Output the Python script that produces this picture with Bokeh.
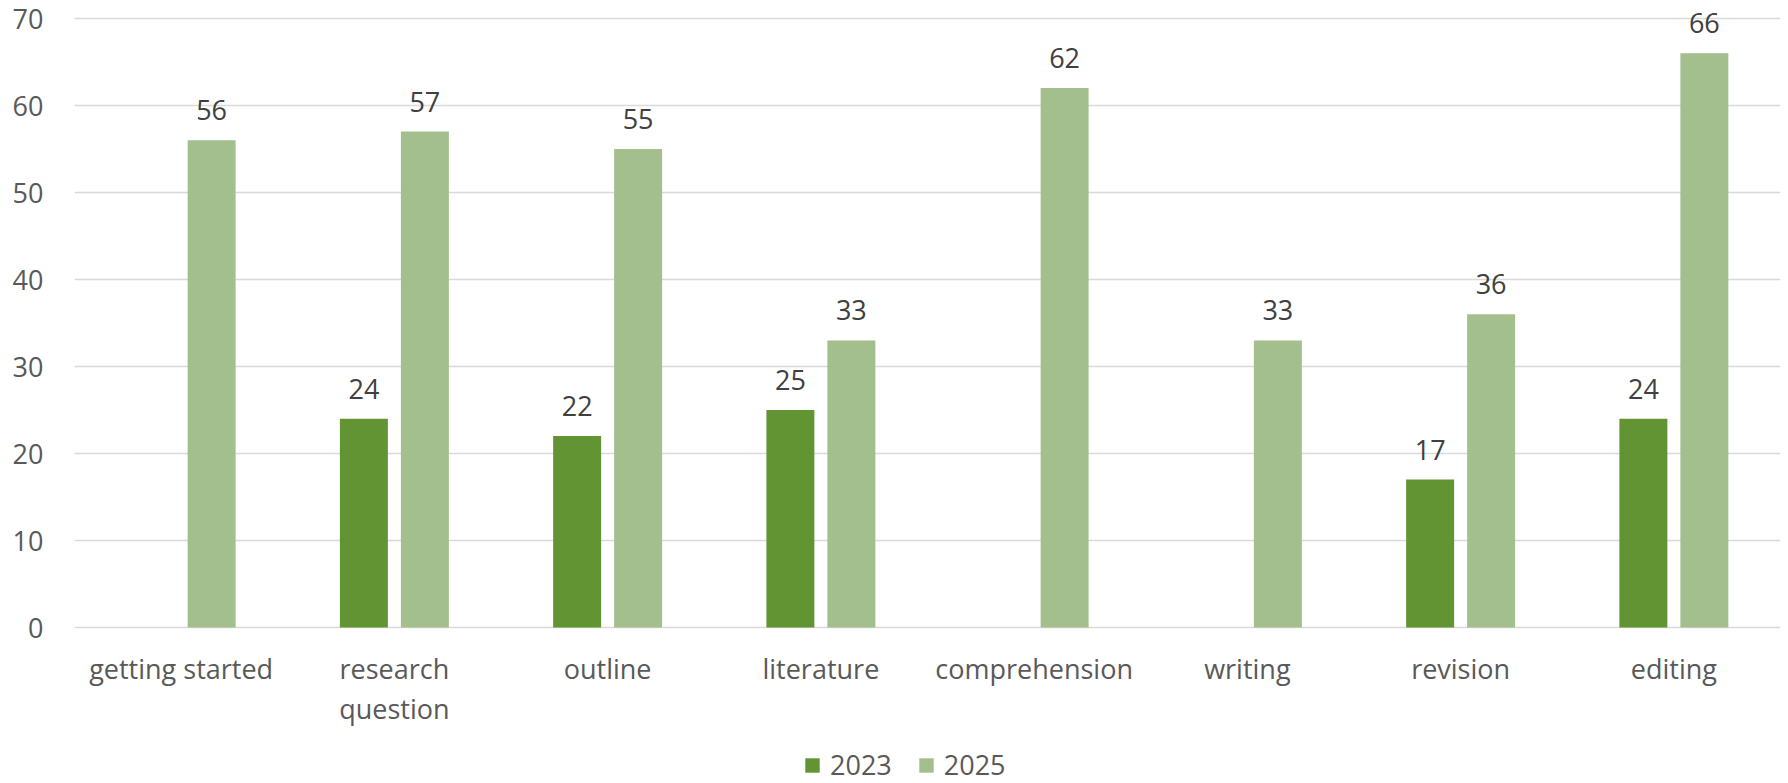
from bokeh.plotting import figure
from bokeh.models import ColumnDataSource, FactorRange, Legend, LegendItem, LabelSet, FixedTicker
from bokeh.transform import dodge
from bokeh.core.properties import value
from bokeh.embed import file_html
from bokeh.resources import INLINE

categories = ["getting started", "research\nquestion", "outline", "literature",
              "comprehension", "writing", "revision", "editing"]
series_names = ["2023", "2025"]
values_2023 = [None, 24, 22, 25, None, None, 17, 24]
values_2025 = [56, 57, 55, 33, 62, 33, 36, 66]
y_ticks = [0, 10, 20, 30, 40, 50, 60, 70]

FONT = "Open Sans"
C2023 = "#629433"
C2025 = "#A2BF8D"

# the frame spans the whole page height; the value axis 0..70 occupies the middle part
PX_PER_UNIT = 609 / 70
Y_MAX = 70 + 18 / PX_PER_UNIT
Y_MIN = -156 / PX_PER_UNIT

nan = float("nan")
src = ColumnDataSource(dict(
    cat=categories,
    v23=[nan if v is None else v for v in values_2023],
    v25=values_2025,
))

p = figure(x_range=FactorRange(*categories), y_range=(Y_MIN, Y_MAX),
           width=1788, height=783,
           output_backend="svg", toolbar_location=None,
           min_border_left=74, min_border_right=8, min_border_top=0, min_border_bottom=0)
p.outline_line_color = None
p.background_fill_color = "white"
p.x_range.range_padding = 0

r23 = p.vbar(x=dodge("cat", -0.143, range=p.x_range), top="v23", bottom=0, width=0.225,
             source=src, fill_color=C2023, line_color=None)
r25 = p.vbar(x=dodge("cat", 0.143, range=p.x_range), top="v25", bottom=0, width=0.225,
             source=src, fill_color=C2025, line_color=None)

lab23 = ColumnDataSource(dict(
    cat=[c for c, v in zip(categories, values_2023) if v is not None],
    v=[v for v in values_2023 if v is not None],
    t=[str(v) for v in values_2023 if v is not None],
))
lab25 = ColumnDataSource(dict(cat=categories, v=values_2025, t=[str(v) for v in values_2025]))
for s, off in ((lab23, -0.143), (lab25, 0.143)):
    ls = LabelSet(x=dodge("cat", off, range=p.x_range), y="v", text="t", source=s,
                  text_align="center", text_baseline="bottom", y_offset=20,
                  text_font=value(FONT), text_font_size=value("27px"), text_color=value("#404040"))
    p.add_layout(ls)

p.xgrid.grid_line_color = None
p.ygrid.grid_line_color = "#D9D9D9"
p.ygrid.grid_line_width = 1.5
p.ygrid.ticker = FixedTicker(ticks=y_ticks)

p.yaxis.ticker = FixedTicker(ticks=y_ticks)
p.yaxis.axis_line_color = None
p.yaxis.major_tick_line_color = None
p.yaxis.minor_tick_line_color = None
p.yaxis.major_tick_out = 0
p.yaxis.major_tick_in = 0
p.yaxis.major_label_standoff = 31
p.yaxis.major_label_text_font = FONT
p.yaxis.major_label_text_font_size = "27px"
p.yaxis.major_label_text_color = "#595959"

p.xaxis.fixed_location = 0
p.xaxis.axis_line_color = None
p.xaxis.major_tick_line_color = None
p.xaxis.major_tick_out = 0
p.xaxis.major_tick_in = 0
p.xaxis.major_label_standoff = 22
p.xaxis.major_label_text_font = FONT
p.xaxis.major_label_text_font_size = "27px"
p.xaxis.major_label_text_color = "#595959"
p.xaxis.major_label_text_line_height = 1.1

legend = Legend(items=[LegendItem(label=series_names[0], renderers=[r23]),
                       LegendItem(label=series_names[1], renderers=[r25])],
                orientation="horizontal", location=(729, 0),
                glyph_width=18, glyph_height=18, label_standoff=9, spacing=25,
                label_text_font=FONT, label_text_font_size="27px", label_text_color="#595959",
                border_line_color=None, background_fill_alpha=0, margin=0, padding=0)
p.add_layout(legend, "center")

open("out.html", "w").write(file_html(p, INLINE))
